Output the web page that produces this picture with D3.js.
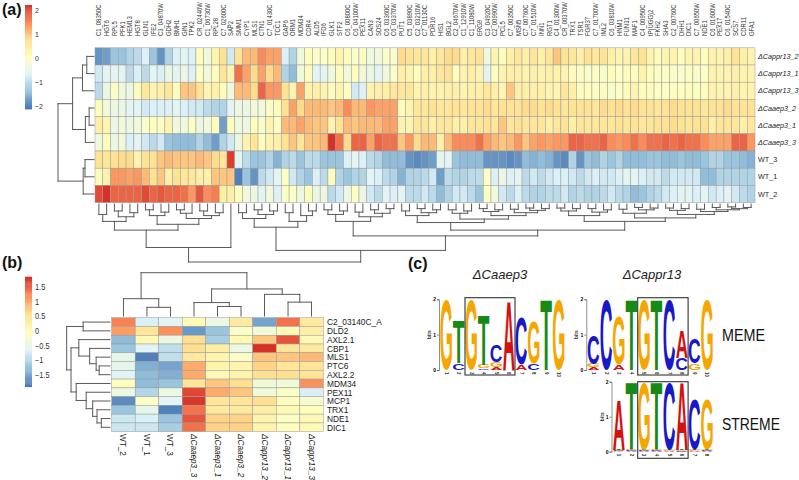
<!DOCTYPE html>
<html>
<head>
<meta charset="utf-8">
<script src="https://cdn.jsdelivr.net/npm/d3@7"></script>
<style>
body { margin: 0; background: #fff; }
svg { display: block; font-family: "Liberation Sans", Arial, sans-serif; }
</style>
</head>
<body>
<div id="fig"></div>
<script>
// ---------- panel (a) data ----------
var rowsA = ["ΔCappr13_2", "ΔCappr13_1", "ΔCappr13_3", "ΔCaaep3_2", "ΔCaaep3_1", "ΔCaaep3_3", "WT_3", "WT_1", "WT_2"];
var colsA = ["C1_08350C","HGT6","RPL5","PFK1","HEM13","HGT8","GLN1","IFE2","C3_04870W","GDH2","BMH1","GIN1","TPK2",
  "CR_02440W","C1_06730W","RPL28","C7_02600C","SAP2","SMM1","CYP1","MLS1","CTN1","C7_01430C","TCC1","GAP6","ORM1",
  "MDM34","CDR4","ALD5","IFD6","GLK1","STF2","C6_00800C","C6_04100W","PEX11","CAN3","SDS24","C6_03360C","C6_03370W",
  "PUT1","C5_03890C","C2_03210W","C7_01130C","PDR16","HIS1","BGL2","C2_04670W","C1_12910W","C1_11080W","ERG9",
  "C3_04920C","C2_00990W","PCL5","C7_00350C","MSN5","C7_00760C","C7_01510W","INN1","RGT1","C4_01300W","CR_00370W",
  "TRX1","TSR1","FGR37","C7_01700W","IML2","C6_03810W","HNM1","FUN31","MAF1","C4_00950C","tP(UGG)2","FKH2","SHA3",
  "C2_00760C","DHH1","DIC1","C7_00650W","NDE1","C6_01600W","PEX17","C6_01540C","SCS7","CDR11","GFA1"];

var cappr13_2 = [-1.8,-1.7,-1.3,-1.3,-1.1,-1.0,-0.7,-1.3,-1.8,-1.1,-0.7,-0.6,-0.7,0.1,-0.3,0.3,0.7,-0.8,0.7,1.1,1.1,1.5,1.3,1.3,-0.7,-1.1,-0.3,0.1,
  -0.1,0.0,0.1,0.3,0.1,-0.1,0.0,-0.3,-0.3,-0.1,-0.1,0.8,0.7,0.6,0.6,0.4,0.6,0.8,0.8,0.4,0.6,0.7,-0.3,0.3,0.1,0.4,0.6,0.4,
  0.6,0.4,0.6,1.0,0.7,0.6,0.4,0.7,0.6,0.7,0.4,0.3,0.3,0.6,0.7,0.3,0.1,0.3,0.3,0.1,0.3,0.3,0.1,0.3,0.3,0.4,0.7,0.4,0.3];
var cappr13_1 = [-0.8,-0.6,-0.6,-0.6,-1.0,-0.7,-1.0,-0.6,-0.7,-0.4,-0.6,-0.4,-0.7,0.0,-0.3,0.1,0.6,0.3,1.7,1.3,0.8,1.3,0.8,1.1,-1.1,-1.4,-0.3,0.1,
  -0.6,-0.6,-0.3,0.1,-0.3,0.1,-0.3,-0.4,-0.6,-0.3,-0.1,0.4,0.3,0.1,0.4,0.4,0.6,0.7,0.1,0.3,0.4,0.3,-0.6,0.1,0.3,0.4,0.4,0.3,
  0.4,0.3,0.4,0.3,0.3,0.1,0.0,-0.1,0.0,-0.1,0.1,0.0,0.1,0.1,0.3,0.1,0.0,0.0,-0.1,-0.1,0.0,-0.1,0.0,0.3,0.3,0.3,0.4,0.3,0.3];
var cappr13_3 = [-1.0,-0.4,0.0,-0.3,-0.4,0.1,0.6,0.3,0.4,0.6,0.1,1.0,1.0,0.7,0.3,0.4,0.1,-0.3,1.1,1.1,0.8,1.8,1.4,1.4,0.7,0.3,1.3,0.3,
  0.4,0.3,0.1,0.3,0.0,-0.8,-0.7,0.3,0.4,0.4,0.6,0.6,0.6,0.3,0.4,0.3,0.3,0.4,0.4,0.3,0.4,0.4,0.6,0.4,0.3,1.0,0.4,0.4,
  0.4,0.4,0.3,0.3,0.6,0.4,0.1,0.1,0.0,0.1,-0.1,0.0,0.1,0.3,0.1,0.1,0.0,0.0,0.1,0.0,0.1,0.0,0.1,0.3,0.3,0.3,0.4,0.3,0.3];
var caaep3_2 = [0.1,-0.3,-0.4,-0.4,-0.6,-0.6,-0.8,-0.7,-0.7,-0.7,-0.6,-0.7,-0.8,-0.8,-1.0,-1.1,-1.1,-0.6,-0.4,-0.4,-0.3,-0.3,0.0,0.1,0.7,1.3,0.8,1.1,
  1.1,1.1,1.0,1.1,1.5,1.1,1.1,1.4,1.3,1.3,1.3,0.1,0.3,0.6,0.6,0.7,0.6,0.6,0.7,0.6,0.7,0.7,0.8,0.6,0.7,0.7,0.7,0.8,
  0.8,0.7,0.8,0.7,0.6,0.7,0.7,0.7,0.6,0.8,0.7,0.8,0.7,0.8,0.7,0.7,0.6,0.7,0.8,0.7,0.7,0.7,0.6,0.7,0.7,0.8,0.7,0.7,0.7];
var caaep3_1 = [0.4,0.3,-0.4,-0.3,-0.4,-0.3,-0.1,0.1,0.0,0.3,-0.3,-0.3,0.0,-0.4,-0.3,0.1,-1.7,0.1,-0.3,-0.4,0.1,-0.1,0.3,0.0,1.1,1.1,1.3,1.1,
  1.0,1.0,0.3,0.7,1.1,1.0,1.1,1.1,1.1,1.3,1.3,0.3,0.3,0.6,0.6,0.4,0.6,0.6,0.4,0.4,0.6,0.6,0.7,0.6,1.0,0.6,0.7,0.6,
  0.6,0.6,0.4,0.6,0.7,0.4,0.6,0.6,0.6,0.6,0.6,0.7,0.6,0.7,0.6,0.6,0.7,0.7,0.8,0.7,0.6,0.7,0.7,0.4,0.6,0.6,0.6,0.4,0.6];
var caaep3_3 = [-0.3,0.1,-0.4,-0.3,-0.7,-0.6,-0.8,-1.0,-0.8,-1.3,-1.4,-1.4,-1.4,-1.1,-1.4,-1.7,-1.1,-0.8,-0.4,0.3,0.6,0.1,0.3,0.4,0.7,1.0,0.6,1.0,
  1.0,1.1,2.2,1.7,0.8,1.8,1.8,1.3,1.8,1.7,1.7,1.0,1.4,0.8,1.1,1.1,0.4,1.1,1.5,1.5,1.5,1.7,1.3,1.1,1.0,1.1,1.4,1.0,
  1.3,1.4,1.3,1.4,1.4,1.8,1.8,1.7,1.7,1.8,1.5,1.4,1.5,1.7,1.5,1.7,1.7,1.8,1.7,1.8,1.7,1.7,1.5,1.3,1.3,1.3,1.8,1.8,1.4];
var wt_3 = [0.7,0.6,0.7,0.8,0.8,0.3,0.7,0.7,1.0,1.1,1.0,1.0,1.0,1.1,1.0,0.8,0.6,2.1,-0.6,-1.0,-1.3,-1.3,-1.1,-1.5,-1.1,-1.0,-1.3,-1.0,
  -1.0,-1.3,-1.3,-1.3,-0.7,-0.6,-0.7,-1.0,-1.1,-1.4,-1.4,-1.4,-1.8,-1.9,-1.8,-1.7,-0.6,-0.6,-1.3,-1.4,-1.4,-1.4,-1.8,-1.8,-1.8,-1.9,-1.8,-1.4,
  -1.5,-1.4,-1.5,-1.8,-1.9,-1.1,-1.8,-1.3,-1.4,-1.1,-1.3,-1.1,-1.4,-1.4,-1.4,-1.3,-1.3,-1.4,-1.4,-1.3,-1.4,-1.4,-1.3,-1.1,-1.1,-1.3,-1.3,-1.4,-1.5];
var wt_1 = [0.1,0.3,1.4,1.4,1.3,1.4,1.1,0.7,1.0,0.4,0.7,0.6,0.6,0.4,0.4,1.0,1.0,1.0,-2.0,-1.3,-1.8,-1.0,-0.8,-0.6,0.0,-0.8,-1.1,-1.3,
  -0.7,-1.0,0.1,-1.1,-1.3,-1.1,-1.1,-0.6,-0.7,-1.0,-1.1,-1.5,-1.1,-1.1,-1.0,-0.8,-1.7,-1.0,-1.1,-1.1,-1.0,-1.0,0.0,-0.7,-0.4,-0.7,-0.6,-1.0,
  -0.8,-1.0,-0.8,-0.7,-0.7,-0.8,-1.0,-0.8,-0.7,-0.8,-0.8,-0.7,-0.6,-0.6,-0.7,-0.8,-0.8,-1.0,-0.8,-0.8,-0.8,-0.8,-1.4,-1.4,-1.1,-1.1,-1.1,-1.1,-1.1];
var wt_2 = [2.0,2.2,1.8,1.8,1.8,1.8,2.0,1.8,1.9,1.8,1.8,1.7,1.4,1.9,1.5,1.6,0.4,0.4,0.1,-0.3,-0.4,-0.6,-0.3,-0.7,-0.1,0.0,-0.4,0.1,
  -0.4,-0.4,-1.0,-0.8,-0.4,0.0,-0.4,-0.8,-1.0,-0.6,-0.7,-0.6,-1.0,-1.0,-0.8,-1.0,-1.4,-1.1,-0.8,-0.8,-1.0,-1.3,0.0,-0.3,-0.8,-1.0,-0.7,-1.0,
  -1.1,-1.1,-1.0,-1.0,-0.8,-1.1,-1.0,-1.1,-1.1,-1.0,-0.8,-1.0,-1.1,-1.4,-1.3,-1.1,-1.0,-0.8,-0.7,-0.6,-0.6,-0.7,-0.6,-0.8,-0.7,-0.6,-0.8,-1.0,-1.1];
var valsA = [cappr13_2, cappr13_1, cappr13_3, caaep3_2, caaep3_1, caaep3_3, wt_3, wt_1, wt_2];
var ticksA = [-2, -1, 0, 1, 2];

// dendrograms: [mergeHeight, child, child], leaves are row/column indices
var treeRowsA = [1, [0.595, [0.32, [0.2, 0, 1], 2], [0.24, [0.135, 3, 4], 5]], [0.3, [0.25, 6, 7], 8]];
var treeColsA = [1,
  [0.75,
    [0.45,
      [0.3, [0.18, 0, 1], [0.22, [0.12, 2, 3], [0.15, 4, 5]]],
      [0.35, [0.2, [0.1, 6, 7], [0.14, 8, 9]], [0.25, [0.16, [0.1, 10, 11], 12], [0.2, [0.12, 13, 14], [0.15, 15, 16]]]]],
    17],
  [0.8,
    [0.4, [0.25, [0.15, 18, 19], [0.18, [0.1, 20, 21], [0.12, 22, 23]]], [0.3, [0.15, 24, 25], [0.2, 26, [0.12, 27, 28]]]],
    [0.55,
      [0.3, [0.18, [0.1, 29, 30], [0.12, 31, 32]], [0.22, [0.14, 33, 34], [0.16, [0.1, 35, 36], [0.08, 37, 38]]]],
      [0.45,
        [0.32, [0.2, [0.12, 39, 40], [0.15, [0.08, 41, 42], [0.1, 43, 44]]],
          [0.26, [0.16, [0.1, 45, 46], [0.12, 47, 48]],
            [0.2, [0.13, [0.08, 49, 50], [0.1, 51, 52]], [0.15, [0.09, 53, 54], [0.11, [0.07, 55, 56], [0.08, 57, 58]]]]]],
        [0.3, [0.2, [0.12, [0.07, 59, 60], [0.08, 61, 62]], [0.14, [0.08, 63, 64], [0.1, 65, 66]]],
          [0.24, [0.16, [0.09, 67, 68], [0.1, [0.06, 69, 70], [0.07, 71, 72]]],
            [0.18, [0.11, [0.07, 73, 74], [0.08, 75, 76]], [0.13, [0.09, 77, 78], [0.1, [0.06, 79, 80], [0.08, [0.05, 81, 82], [0.06, 83, 84]]]]]]]]]]];

// ---------- panel (b) data ----------
var rowsB = ["C2_03140C_A","DLD2","AXL2.1","CBP1","MLS1","PTC6","AXL2.2","MDM34","PEX11","MCP1","TRX1","NDE1","DIC1"];
var colsB = ["WT_2","WT_1","WT_3","ΔCaaep3_3","ΔCaaep3_1","ΔCaaep3_2","ΔCappr13_2","ΔCappr13_1","ΔCappr13_3"];
var c2_03140c = [1.3,-0.7,-0.6,0.1,-0.4,0.4,-1.5,1.4,0.4];
var dld2 = [1.1,0.5,1.2,-1.6,-1.2,-0.1,-0.3,0.1,0.3];
var axl2_1 = [-1.3,0.1,-0.4,0.6,-1.1,0.1,0.8,1.6,0.1];
var cbp1 = [-1.2,-0.6,-0.9,0.6,0.3,-0.4,1.85,0.5,0.4];
var mls1 = [-0.5,-1.8,-0.9,0.4,0.2,-0.1,0.8,0.8,0.9];
var ptc6 = [-0.5,-1.4,-1.5,1.0,0.2,0.2,0.7,0.5,0.5];
var axl2_2 = [-0.6,-1.3,-1.4,1.0,0.1,0.2,0.6,0.6,0.5];
var mdm34 = [0.0,-1.3,-1.2,0.5,0.8,0.6,-0.3,-0.3,1.2];
var pex11 = [-0.4,-1.0,-0.4,1.7,1.0,0.8,-0.3,-0.1,-0.7];
var mcp1 = [-1.7,-0.1,-0.6,1.8,0.5,0.5,0.6,0.0,-0.2];
var trx1 = [-1.2,-0.5,-1.8,1.4,0.4,0.4,0.3,0.1,0.0];
var nde1 = [-0.8,-0.7,-1.2,1.6,0.7,0.7,0.2,-0.1,0.1];
var dic1 = [-0.8,-0.8,-1.1,1.4,0.7,0.7,0.2,0.0,0.1];
var valsB = [c2_03140c, dld2, axl2_1, cbp1, mls1, ptc6, axl2_2, mdm34, pex11, mcp1, trx1, nde1, dic1];
var ticksB = [-1.5, -1, -0.5, 0, 0.5, 1, 1.5];
var treeRowsB = [1, [0.62, 0, 1],
  [0.9, [0.72, 2, [0.47, 3, [0.32, 4, [0.25, 5, 6]]]], [0.78, 7, [0.55, 8, [0.4, 9, [0.3, 10, [0.2, 11, 12]]]]]]];
var treeColsB = [1, [0.4, 0, [0.2, 1, 2]], [0.625, [0.31, 3, [0.22, 4, 5]], [0.5, 6, [0.32, 7, 8]]]];

// ---------- panel (c) data: letters per position, bottom to top, in bits ----------
var logoCaaep3 = [
  [["G",1.98]], [["C",0.2],["T",1.2]], [["G",1.98]], [["C",0.05],["G",0.1],["T",1.4]],
  [["A",0.07],["G",0.16],["C",0.48]], [["A",1.95]], [["A",0.14],["C",1.35]], [["C",0.19],["G",1.18]],
  [["T",1.98]], [["G",1.98]]];
var logoCappr13 = [
  [["A",0.07],["G",0.09],["C",0.8]], [["C",1.98]], [["A",0.14],["G",1.36]], [["T",1.98]],
  [["G",1.98]], [["T",1.98]], [["C",1.98]], [["C",0.33],["A",0.75]], [["G",0.19],["C",0.7]], [["G",1.98]]];
var logoStreme = [
  [["G",0.02],["C",0.02],["T",0.02],["A",1.42]], [["A",0.02],["C",0.02],["G",0.02],["T",1.93]],
  [["A",0.02],["C",0.02],["T",0.02],["G",1.93]], [["A",0.02],["C",0.02],["G",0.02],["T",1.93]],
  [["A",0.02],["G",0.02],["T",0.02],["C",1.93]], [["C",0.02],["G",0.02],["T",0.02],["A",1.93]],
  [["A",0.02],["G",0.02],["T",0.02],["C",1.42]], [["A",0.02],["C",0.02],["T",0.02],["G",1.42]]];

// ---------- helpers ----------
var palette = ["#4575B4","#91BFDB","#E0F3F8","#FFFFBF","#FEE090","#FC8D59","#D73027"];
function makeColor(lo, hi) {
  return d3.scaleLinear()
    .domain(palette.map(function(c, i) { return lo + i * (hi - lo) / (palette.length - 1); }))
    .range(palette);
}
var SQ = 0.87; // the figure text is a little narrow

var svg = d3.select("#fig").append("svg").attr("width", 799).attr("height", 480);

function panelLabel(txt, x, y) {
  svg.append("text").attr("x", x).attr("y", y).attr("font-size", 16).attr("font-weight", "bold")
    .attr("fill", "#111").text(txt);
}

function colorBar(color, lo, hi, x, yTop, yBot, ticks, fs) {
  var g = svg.append("g");
  var ys = d3.scaleLinear().domain([lo, hi]).range([yBot, yTop]);
  var step = (hi - lo) / 100;
  g.selectAll("rect").data(d3.range(100)).join("rect")
    .attr("x", x).attr("width", 7)
    .attr("y", function(i) { return ys(lo + (i + 1) * step); })
    .attr("height", function(i) { return ys(lo + i * step) - ys(lo + (i + 1) * step) + 0.4; })
    .attr("fill", function(i) { return color(lo + (i + 0.5) * step); });
  var fmt = d3.format("");
  g.selectAll("text").data(ticks).join("text")
    .attr("transform", function(d) { return "translate(" + (x + 10) + "," + (ys(d) + fs * 0.35) + ") scale(" + SQ + ",1)"; })
    .attr("font-size", fs).attr("fill", "#333")
    .text(function(d) { return fmt(d); });
}

function heatmap(vals, x, y, color) {
  var g = svg.append("g");
  g.selectAll("g").data(vals).join("g")
    .selectAll("rect").data(function(row, i) { return row.map(function(v, j) { return {i: i, j: j, v: v}; }); })
    .join("rect")
    .attr("x", function(d) { return x(d.j); })
    .attr("y", function(d) { return y(d.i); })
    .attr("width", x.bandwidth()).attr("height", y.bandwidth())
    .attr("fill", function(d) { return color(d.v); })
    .attr("stroke", "#9a9a9a").attr("stroke-width", 0.5);
}

// isCol: leaves along x, heights along y
function dendrogram(tree, band, ht, isCol) {
  var root = d3.hierarchy(tree, function(d) { return Array.isArray(d) ? d.slice(1) : null; });
  root.eachAfter(function(n) {
    if (n.children) { n.p = d3.mean(n.children, function(c) { return c.p; }); n.h = n.data[0]; }
    else { n.p = band(n.data) + band.bandwidth() / 2; n.h = 0; }
  });
  var pt = isCol ? function(p, h) { return [p, ht(h)]; } : function(p, h) { return [ht(h), p]; };
  var segs = [];
  root.each(function(n) {
    if (!n.children) return;
    var ps = n.children.map(function(c) { return c.p; });
    segs.push([pt(d3.min(ps), n.h), pt(d3.max(ps), n.h)]);
    n.children.forEach(function(c) { segs.push([pt(c.p, c.h), pt(c.p, n.h)]); });
  });
  svg.append("g").selectAll("line").data(segs).join("line")
    .attr("x1", function(s) { return s[0][0]; }).attr("y1", function(s) { return s[0][1]; })
    .attr("x2", function(s) { return s[1][0]; }).attr("y2", function(s) { return s[1][1]; })
    .attr("stroke", "#5a5a5a").attr("stroke-width", 1).attr("stroke-linecap", "square");
}

function isMutant(s) { return s.charAt(0) === "Δ"; }

// ---------- panel (a) ----------
panelLabel("(a)", 2, 15);
var colorA = makeColor(-2.1, 2.2);
colorBar(colorA, -2.1, 2.2, 25, 5, 109, ticksA, 8);

var xA = d3.scaleBand().domain(d3.range(colsA.length)).range([95, 755]);
var yA = d3.scaleBand().domain(d3.range(rowsA.length)).range([47.8, 202.6]);
heatmap(valsA, xA, yA, colorA);

svg.append("g").selectAll("text").data(colsA).join("text")
  .attr("transform", function(d, i) {
    return "translate(" + (xA(i) + xA.bandwidth() / 2 + 2.4) + ",36) rotate(-90) scale(" + SQ + ",1)";
  })
  .attr("font-size", 6.8).attr("fill", "#333").text(function(d) { return d; });

svg.append("g").selectAll("text").data(rowsA).join("text")
  .attr("x", 758).attr("y", function(d, i) { return yA(i) + yA.bandwidth() / 2 + 2.5; })
  .attr("font-size", 7.2).attr("fill", "#222")
  .attr("font-style", function(d) { return isMutant(d) ? "italic" : "normal"; })
  .text(function(d) { return d; });

dendrogram(treeRowsA, yA, d3.scaleLinear().domain([0, 1]).range([94, 58]), false);
dendrogram(treeColsA, xA, d3.scaleLinear().domain([0, 1]).range([204, 262]), true);

// ---------- panel (b) ----------
panelLabel("(b)", 2, 268);
var colorB = makeColor(-1.9, 1.85);
colorBar(colorB, -1.9, 1.85, 25, 276.7, 386.7, ticksB, 8.5);

var xB = d3.scaleBand().domain(d3.range(colsB.length)).range([111.7, 323.3]);
var yB = d3.scaleBand().domain(d3.range(rowsB.length)).range([317.7, 431.7]);
heatmap(valsB, xB, yB, colorB);

svg.append("g").selectAll("text").data(rowsB).join("text")
  .attr("transform", function(d, i) { return "translate(327," + (yB(i) + yB.bandwidth() / 2 + 3.3) + ") scale(" + SQ + ",1)"; })
  .attr("font-size", 9.6).attr("fill", "#222").text(function(d) { return d; });

svg.append("g").selectAll("text").data(colsB).join("text")
  .attr("transform", function(d, i) { return "translate(" + (xB(i) + xB.bandwidth() / 2 - 3.0) + ",434) rotate(90)"; })
  .attr("font-size", 8.2).attr("fill", "#222")
  .attr("font-style", function(d) { return isMutant(d) ? "italic" : "normal"; })
  .text(function(d) { return d; });

dendrogram(treeRowsB, yB, d3.scaleLinear().domain([0, 1]).range([110, 66.7]), false);
dendrogram(treeColsB, xB, d3.scaleLinear().domain([0, 1]).range([316, 272.7]), true);

// ---------- panel (c) ----------
panelLabel("(c)", 408, 269);
var letterColor = {A: "#d41010", C: "#1818c8", G: "#f6a600", T: "#168a16"};
var ctx = document.createElement("canvas").getContext("2d");
ctx.font = "bold 100px 'Liberation Sans', Arial, sans-serif";

function drawLetter(g, L, x0, w, yBot, yTop) {
  var m = ctx.measureText(L);
  var l = -m.actualBoundingBoxLeft, r = m.actualBoundingBoxRight;
  var a = m.actualBoundingBoxAscent, d = m.actualBoundingBoxDescent;
  var sx = w / (r - l), sy = (yBot - yTop) / (a + d);
  if (!(sy > 0)) return;
  g.append("text")
    .attr("transform", "translate(" + (x0 - l * sx) + "," + (yBot - d * sy) + ") scale(" + sx + "," + sy + ")")
    .attr("font-size", 100).attr("font-weight", "bold").attr("fill", letterColor[L]).text(L);
}

function logo(cols, x, y, boxFrom, boxTo, boxY0, boxY1) {
  var g = svg.append("g");
  var bw = x.bandwidth();
  cols.forEach(function(stack, i) {
    var pos = i + 1, cum = 0;
    stack.forEach(function(s) {
      drawLetter(g, s[0], x(pos) + bw * 0.04, bw * 0.92, y(cum), y(cum + s[1]));
      cum += s[1];
    });
  });
  var ax = g.append("g").attr("transform", "translate(" + (x.range()[0] - 1) + ",0)")
    .call(d3.axisLeft(y).tickValues([0, 1, 2]).tickSize(2).tickPadding(1).tickFormat(d3.format("d")));
  ax.selectAll("text").attr("font-size", 5).attr("font-family", "Liberation Sans, Arial, sans-serif").attr("font-weight", "bold");
  ax.selectAll("line,path").attr("stroke", "#444").attr("stroke-width", 0.6);
  g.append("text")
    .attr("transform", "translate(" + (x.range()[0] - 9) + "," + ((y(0) + y(2)) / 2) + ") rotate(-90)")
    .attr("text-anchor", "middle").attr("font-size", 5).attr("font-weight", "bold").attr("fill", "#333").text("bits");
  g.selectAll(".pn").data(cols).join("text").attr("class", "pn")
    .attr("transform", function(d, i) { return "translate(" + (x(i + 1) + bw / 2 - 1.6) + "," + (y(0) + 2) + ") rotate(90)"; })
    .attr("font-size", 4.5).attr("font-weight", "bold").attr("fill", "#333")
    .text(function(d, i) { return i + 1; });
  g.append("rect")
    .attr("x", x(boxFrom)).attr("y", boxY0)
    .attr("width", x(boxTo) + bw - x(boxFrom)).attr("height", boxY1 - boxY0)
    .attr("fill", "none").attr("stroke", "#333").attr("stroke-width", 1.1);
}

var yLogoTop = d3.scaleLinear().domain([0, 2]).range([370, 299.3]);
var yLogoBot = d3.scaleLinear().domain([0, 2]).range([451.7, 381.7]);
logo(logoCaaep3, d3.scaleBand().domain(d3.range(1, 11)).range([440, 565]), yLogoTop, 3, 6, 297.7, 375);
logo(logoCappr13, d3.scaleBand().domain(d3.range(1, 11)).range([587.3, 713.3]), yLogoTop, 5, 8, 297.7, 375);
logo(logoStreme, d3.scaleBand().domain(d3.range(1, 9)).range([612.5, 713.3]), yLogoBot, 3, 6, 381.7, 458.3);

svg.append("text").attr("x", 500).attr("y", 279).attr("text-anchor", "middle")
  .attr("font-size", 13).attr("font-style", "italic").attr("fill", "#222").text("ΔCaaep3");
svg.append("text").attr("x", 652).attr("y", 279).attr("text-anchor", "middle")
  .attr("font-size", 13).attr("font-style", "italic").attr("fill", "#222").text("ΔCappr13");
svg.append("text").attr("x", 722).attr("y", 341).attr("font-size", 16)
  .attr("textLength", 43).attr("lengthAdjust", "spacingAndGlyphs").attr("fill", "#111").text("MEME");
svg.append("text").attr("x", 722).attr("y", 430).attr("font-size", 16)
  .attr("textLength", 58).attr("lengthAdjust", "spacingAndGlyphs").attr("fill", "#111").text("STREME");
</script>
</body>
</html>
